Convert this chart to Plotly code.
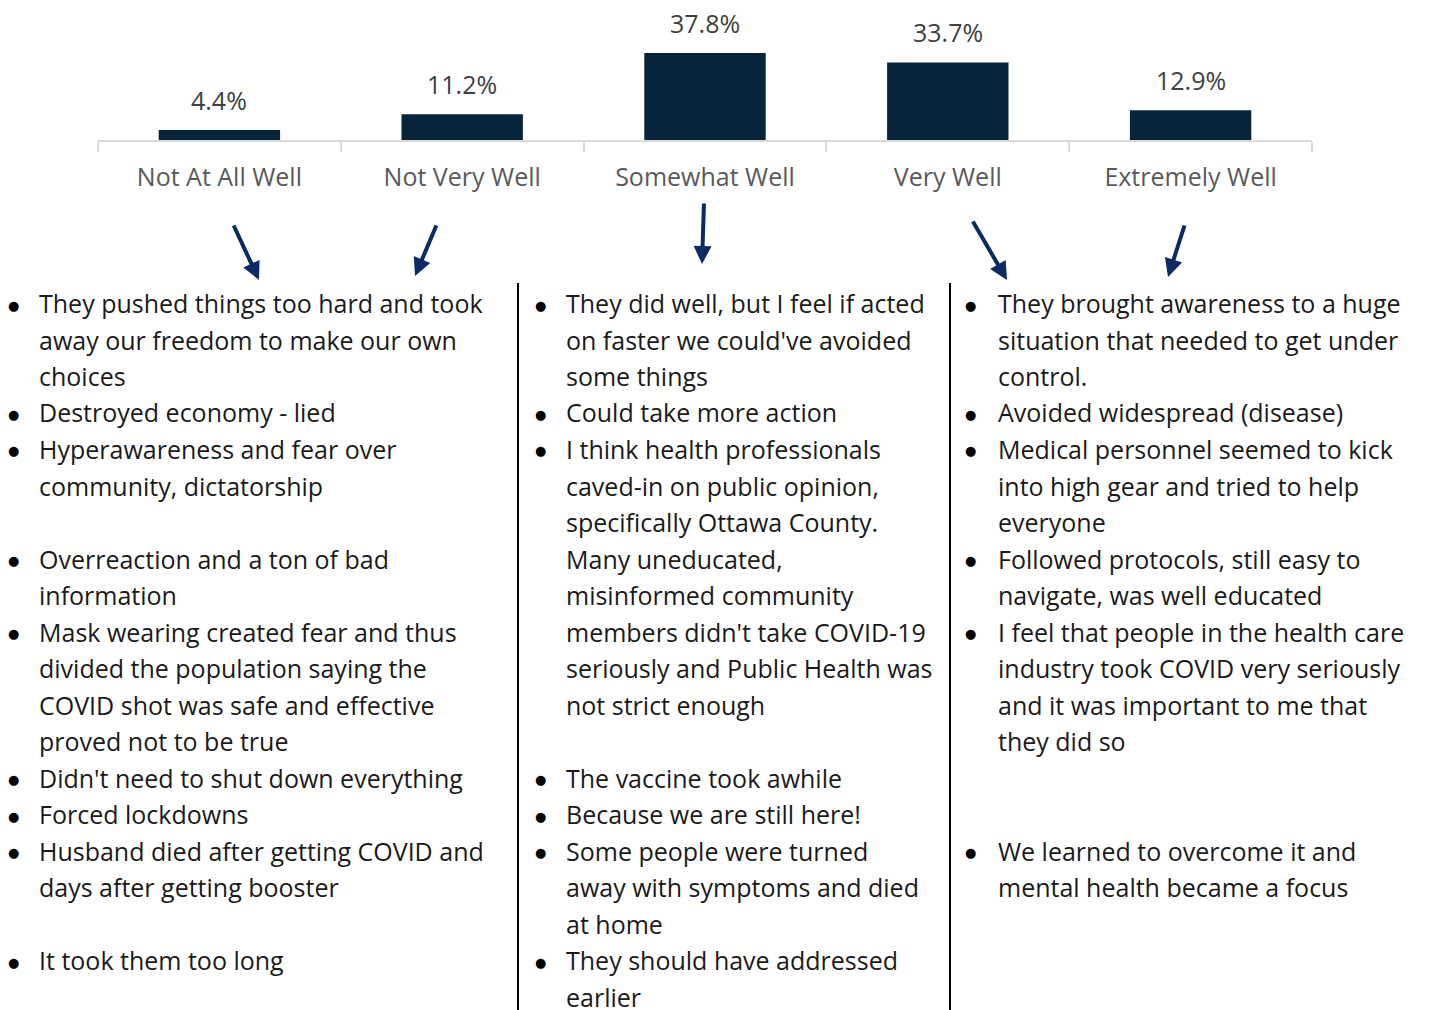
import plotly.graph_objects as go

# Survey results: how well did public health respond
categories = ["Not At All Well", "Not Very Well", "Somewhat Well", "Very Well", "Extremely Well"]
percentages = [4.4, 11.2, 37.8, 33.7, 12.9]

# Open-ended comments, grouped in three columns: (row, text, starts a bullet)
comments_negative = [
    (0, "They pushed things too hard and took", True),
    (1, "away our freedom to make our own", False),
    (2, "choices", False),
    (3, "Destroyed economy - lied", True),
    (4, "Hyperawareness and fear over", True),
    (5, "community, dictatorship", False),
    (7, "Overreaction and a ton of bad", True),
    (8, "information", False),
    (9, "Mask wearing created fear and thus", True),
    (10, "divided the population saying the", False),
    (11, "COVID shot was safe and effective", False),
    (12, "proved not to be true", False),
    (13, "Didn't need to shut down everything", True),
    (14, "Forced lockdowns", True),
    (15, "Husband died after getting COVID and", True),
    (16, "days after getting booster", False),
    (18, "It took them too long", True),
]
comments_somewhat = [
    (0, "They did well, but I feel if acted", True),
    (1, "on faster we could've avoided", False),
    (2, "some things", False),
    (3, "Could take more action", True),
    (4, "I think health professionals", True),
    (5, "caved-in on public opinion,", False),
    (6, "specifically Ottawa County.", False),
    (7, "Many uneducated,", False),
    (8, "misinformed community", False),
    (9, "members didn't take COVID-19", False),
    (10, "seriously and Public Health was", False),
    (11, "not strict enough", False),
    (13, "The vaccine took awhile", True),
    (14, "Because we are still here!", True),
    (15, "Some people were turned", True),
    (16, "away with symptoms and died", False),
    (17, "at home", False),
    (18, "They should have addressed", True),
    (19, "earlier", False),
]
comments_positive = [
    (0, "They brought awareness to a huge", True),
    (1, "situation that needed to get under", False),
    (2, "control.", False),
    (3, "Avoided widespread (disease)", True),
    (4, "Medical personnel seemed to kick", True),
    (5, "into high gear and tried to help", False),
    (6, "everyone", False),
    (7, "Followed protocols, still easy to", True),
    (8, "navigate, was well educated", False),
    (9, "I feel that people in the health care", True),
    (10, "industry took COVID very seriously", False),
    (11, "and it was important to me that", False),
    (12, "they did so", False),
    (15, "We learned to overcome it and", True),
    (16, "mental health became a focus", False),
]

W, H = 1429, 1010
BAR_COLOR = "#08243a"
ARROW_COLOR = "#0c2a66"
TEXT_COLOR = "#1a1a1a"
LABEL_COLOR = "#595959"
FONT = "Open Sans"


def px_x(x):
    return x / W


def px_y(y):
    return 1 - y / H


fig = go.Figure()
fig.add_trace(go.Bar(
    x=categories, y=percentages, marker_color=BAR_COLOR, marker_line_width=0,
    width=0.5, hoverinfo="skip",
))

# Value labels above each bar
for cat, val in zip(categories, percentages):
    fig.add_annotation(
        x=cat, y=val, xref="x", yref="y", text=f"{val:.1f}%", showarrow=False,
        yanchor="bottom", yshift=11, font=dict(family=FONT, size=25, color="#404040"),
    )

# Arrows from the categories down to the comment columns (head x, head y, tail dx, tail dy)
arrows = [(259, 280, -26, -56), (415, 276, 22, -52), (702, 264, 2, -62),
          (1007, 280, -35, -60), (1168, 277, 17, -53)]
for hx, hy, dx, dy in arrows:
    fig.add_annotation(
        x=px_x(hx), y=px_y(hy), xref="paper", yref="paper", ax=dx, ay=dy,
        axref="pixel", ayref="pixel", showarrow=True, arrowhead=2, arrowsize=0.9,
        arrowwidth=4, arrowcolor=ARROW_COLOR, text="",
    )

ROW0, ROW_STEP = 303, 36.5
columns = [(13, 37, comments_negative), (540, 564, comments_somewhat), (971, 996, comments_positive)]
for bullet_x, text_x, items in columns:
    for row, line, bullet in items:
        y = ROW0 + ROW_STEP * row
        if bullet:
            fig.add_annotation(
                x=px_x(bullet_x), y=px_y(y + 2), xref="paper", yref="paper", text="●",
                showarrow=False, xanchor="center", yanchor="middle",
                font=dict(family="DejaVu Sans", size=13, color="#000000"),
            )
        fig.add_annotation(
            x=px_x(text_x), y=px_y(y), xref="paper", yref="paper", text=line,
            showarrow=False, xanchor="left", yanchor="middle",
            font=dict(family=FONT, size=25, color=TEXT_COLOR),
        )

# Column dividers
for x in (518, 950):
    fig.add_shape(type="line", xref="paper", yref="paper",
                  x0=px_x(x), x1=px_x(x), y0=px_y(283), y1=0,
                  line=dict(color="#000000", width=2))

AXIS_Y = 140
fig.update_layout(
    width=W, height=H, margin=dict(l=0, r=0, t=0, b=0),
    paper_bgcolor="white", plot_bgcolor="white", showlegend=False,
    bargap=0.5,
    xaxis=dict(
        domain=[px_x(98), px_x(1312)], type="category", tickson="boundaries",
        ticks="outside", ticklen=10, tickwidth=2, tickcolor="#d9d9d9",
        showline=True, linecolor="#d9d9d9", linewidth=2, showgrid=False,
        ticklabelstandoff=14,
        tickfont=dict(family=FONT, size=25, color=LABEL_COLOR),
        anchor="y", fixedrange=True,
    ),
    yaxis=dict(
        domain=[px_y(AXIS_Y), 1.0], range=[0, AXIS_Y / 2.30], visible=False,
        showgrid=False, zeroline=False, fixedrange=True,
    ),
)

fig.write_html("out.html")
